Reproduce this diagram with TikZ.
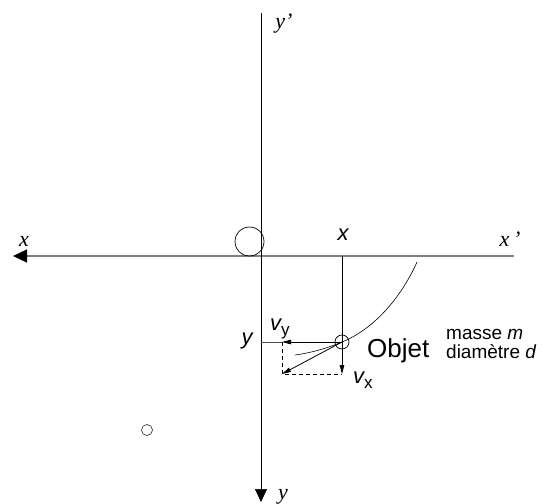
\documentclass[tikz,border=0pt]{standalone}
\usepackage{fontspec}
\setmainfont{Liberation Sans}
\newfontfamily\tnr{Liberation Serif}
\usetikzlibrary{arrows.meta,positioning,calc}

\begin{document}
\begin{tikzpicture}[
        x=1pt, y=-1pt,
        axeX/.style={line width=1.2pt, draw=black!50},
        axeY/.style={line width=0.7pt},
        lblT/.style={font=\fontsize{22}{22}\selectfont\tnr\itshape, inner sep=0pt, anchor=base},
        lblS/.style={font=\fontsize{22}{22}\selectfont\itshape, inner sep=0pt},
        vec/.style={line width=0.8pt, -{Triangle[length=9pt,width=4.5pt]}},
        proj/.style={line width=0.6pt},
        comp/.style={line width=0.7pt, dash pattern=on 4pt off 3pt},
        ball/.style={circle, draw, inner sep=0pt, line width=0.7pt}
    ]
\useasboundingbox (0,0) rectangle (558,504);

% --- axes ---
        \coordinate (xg) at (13,256);
        \coordinate (xd) at (514,256);
        \coordinate (yh) at (261,13);
        \coordinate (yb) at (261,502);
        \draw[axeX, -{Triangle[length=14pt,width=13pt,color=black]}] (xd) -- (xg);
        \draw[axeY, -{Triangle[length=13pt,width=12pt]}] (yh) -- (yb);

        \node[lblT] (lx)  at (24,246)  {x};
        \node[lblT] (lxp) at (510,246) {x\,’};
        \node[lblT] (lyp) at (284,28)  {y’};
        \node[lblT] (ly)  at (283,499) {y};

% --- circles ---
        \node[ball, minimum size=29pt] (O) at (249.5,241.5) {};
        \node[ball, minimum size=14pt] (obj) at (342,342) {};
        \node[ball, minimum size=11pt, line width=0.5pt] (dot) at (147,430) {};

% --- trajectory ---
        \coordinate (ta) at (417,262);
        \coordinate (tb) at (295,355);
        \draw[proj] (ta) .. controls (400,300) and (372,330) .. (obj.center)
                         .. controls (325,349) and (310,353) .. (tb);

% --- projections and speed ---
        \coordinate (px) at (342,256);
        \coordinate (py) at (261,342);
        \coordinate (vy) at (282,342);
        \coordinate (vx) at (342,374);
        \coordinate (v)  at (282,374);

        \draw[vec] (px) -- (vx);
        \draw[proj, black!70] (py) -- (vy);
        \draw[vec] (obj.center) -- (vy);
        \draw[vec] (obj.center) -- (v);
        \draw[comp] (vy) -- (v) -- (vx);

        \node[lblS, anchor=base] (X) at (343,240) {x};
        \node[lblS, anchor=base] (Y) at (247,344) {y};
        \node[lblS, anchor=base west] (lvy) at (270,330) {v\raisebox{-5pt}{\fontsize{17}{17}\selectfont\upshape y}};
        \node[lblS, anchor=base west] (lvx) at (353,383) {v\raisebox{-5pt}{\fontsize{17}{17}\selectfont\upshape x}};

% --- object ---
        \node[font=\fontsize{26}{26}\selectfont, inner sep=0pt, anchor=base west] (nom) at (367,357.5) {Objet};
        \node[font=\fontsize{19}{19}\selectfont, inner sep=0pt, align=left, anchor=base west] (masse) at (446,358)
            {masse \textit{m}\\diamètre \textit{d}};

\end{tikzpicture}
\end{document}
